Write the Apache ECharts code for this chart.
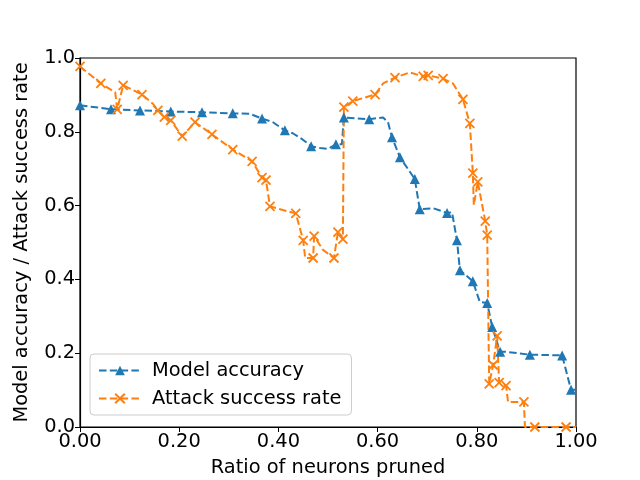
<!DOCTYPE html>
<html>
<head>
<meta charset="utf-8">
<script src="https://cdn.jsdelivr.net/npm/echarts@6/dist/echarts.min.js"></script>
<style>
  html, body { margin: 0; padding: 0; background: #fff; }
  #chart { width: 640px; height: 480px; }
</style>
</head>
<body>
<div id="chart"></div>
<script>
// data
var accX = [0, 0.0625, 0.121, 0.183, 0.246, 0.308, 0.342, 0.367, 0.389, 0.413, 0.429, 0.448, 0.466, 0.484, 0.500, 0.516, 0.528, 0.532, 0.583, 0.611, 0.621, 0.629, 0.645, 0.675, 0.685, 0.712, 0.740, 0.750, 0.760, 0.766, 0.792, 0.806, 0.821, 0.831, 0.847, 0.857, 0.907, 0.972, 0.990, 1.0];
var accY = [0.872, 0.861, 0.858, 0.855, 0.853, 0.850, 0.849, 0.836, 0.826, 0.804, 0.796, 0.780, 0.761, 0.756, 0.754, 0.766, 0.766, 0.839, 0.834, 0.839, 0.826, 0.785, 0.731, 0.672, 0.590, 0.593, 0.580, 0.582, 0.506, 0.425, 0.395, 0.339, 0.336, 0.271, 0.204, 0.204, 0.196, 0.194, 0.101, 0.101];
var accMark = [1, 1, 1, 1, 1, 1, 0, 1, 0, 1, 0, 0, 1, 0, 0, 1, 0, 1, 1, 0, 0, 1, 1, 1, 1, 0, 1, 0, 1, 1, 1, 0, 1, 1, 1, 0, 1, 1, 1, 0];

var atkX = [0, 0.042, 0.071, 0.075, 0.087, 0.125, 0.147, 0.157, 0.170, 0.183, 0.206, 0.232, 0.266, 0.308, 0.347, 0.367, 0.375, 0.383, 0.409, 0.435, 0.450, 0.454, 0.470, 0.472, 0.490, 0.512, 0.520, 0.530, 0.532, 0.550, 0.595, 0.611, 0.635, 0.665, 0.692, 0.702, 0.732, 0.752, 0.772, 0.786, 0.792, 0.794, 0.802, 0.817, 0.821, 0.825, 0.833, 0.841, 0.845, 0.859, 0.863, 0.895, 0.897, 0.917, 0.980, 1.0];
var atkY = [0.977, 0.931, 0.907, 0.861, 0.926, 0.901, 0.876, 0.858, 0.840, 0.831, 0.788, 0.826, 0.793, 0.752, 0.720, 0.676, 0.669, 0.598, 0.588, 0.579, 0.506, 0.458, 0.458, 0.517, 0.480, 0.458, 0.528, 0.509, 0.867, 0.883, 0.901, 0.931, 0.947, 0.961, 0.950, 0.953, 0.944, 0.931, 0.888, 0.823, 0.688, 0.601, 0.664, 0.558, 0.520, 0.117, 0.168, 0.247, 0.120, 0.112, 0.068, 0.068, 0, 0, 0, 0];
var atkMark = [1, 1, 0, 1, 1, 1, 0, 1, 1, 1, 1, 1, 1, 1, 1, 1, 1, 1, 0, 1, 1, 0, 1, 1, 0, 1, 1, 1, 1, 1, 1, 0, 1, 0, 1, 1, 1, 0, 1, 1, 1, 0, 1, 1, 1, 1, 1, 1, 1, 1, 0, 1, 0, 1, 1, 0];

var seriesNames = ['Model accuracy', 'Attack success rate'];
var colors = ['#1f77b4', '#ff7f0e'];

var crossPath = 'path://M0,0L10,10M10,0L0,10';

function buildData(xs, ys, marks) {
    return xs.map(function(x, i) {
        var item = { value: [x, ys[i]] };
        if (!marks[i]) item.symbol = 'none';
        return item;
    });
}

var myChart = echarts.init(document.getElementById('chart'));

var axisText = { color: '#000', fontSize: 19.4, fontFamily: 'DejaVu Sans' };

var option = {
    animation: false,
    textStyle: { fontFamily: 'DejaVu Sans' },
    grid: {
        left: 80, right: 64, top: 58, bottom: 53,
        outerBoundsMode: 'none',
        show: true, borderColor: '#000', borderWidth: 1.2, backgroundColor: '#fff'
    },
    legend: {
        orient: 'vertical',
        left: 90, top: 354,
        padding: [7, 10, 7, 8],
        itemGap: 9,
        itemWidth: 42, itemHeight: 12,
        backgroundColor: '#fff',
        borderColor: '#ccc', borderWidth: 1, borderRadius: 4,
        textStyle: { color: '#000', fontSize: 19.4, fontFamily: 'DejaVu Sans', padding: [0, 0, 0, 6] },
        data: seriesNames
    },
    xAxis: {
        type: 'value', min: 0, max: 1, interval: 0.2,
        name: 'Ratio of neurons pruned',
        nameLocation: 'middle', nameGap: 31,
        nameTextStyle: axisText,
        axisLine: { show: true, lineStyle: { color: '#000', width: 1.2 } },
        axisTick: { show: true, length: 5, lineStyle: { color: '#000' } },
        axisLabel: {
            color: '#000', fontSize: 19.4, fontFamily: 'DejaVu Sans', margin: 5,
            formatter: function(v) { return v.toFixed(2); }
        },
        splitLine: { show: false }
    },
    yAxis: {
        type: 'value', min: 0, max: 1, interval: 0.2,
        name: 'Model accuracy / Attack success rate',
        nameLocation: 'middle', nameGap: 49,
        nameTextStyle: axisText,
        axisLine: { show: true, lineStyle: { color: '#000', width: 1.2 } },
        axisTick: { show: true, length: 5, lineStyle: { color: '#000' } },
        axisLabel: {
            color: '#000', fontSize: 19.4, fontFamily: 'DejaVu Sans', margin: 5,
            formatter: function(v) { return v.toFixed(1); }
        },
        splitLine: { show: false }
    },
    series: [
        {
            name: seriesNames[0],
            type: 'line',
            symbol: 'triangle',
            symbolSize: 10,
            showAllSymbol: true,
            color: colors[0],
            itemStyle: { color: colors[0] },
            lineStyle: { color: colors[0], width: 2, type: [7.5, 3.3] },
            data: buildData(accX, accY, accMark)
        },
        {
            name: seriesNames[1],
            type: 'line',
            symbol: crossPath,
            symbolSize: 9,
            showAllSymbol: true,
            color: colors[1],
            itemStyle: { color: 'none', borderColor: colors[1], borderWidth: 1.8 },
            lineStyle: { color: colors[1], width: 2, type: [7.5, 3.3] },
            data: buildData(atkX, atkY, atkMark)
        }
    ]
};

myChart.setOption(option);
</script>
</body>
</html>
